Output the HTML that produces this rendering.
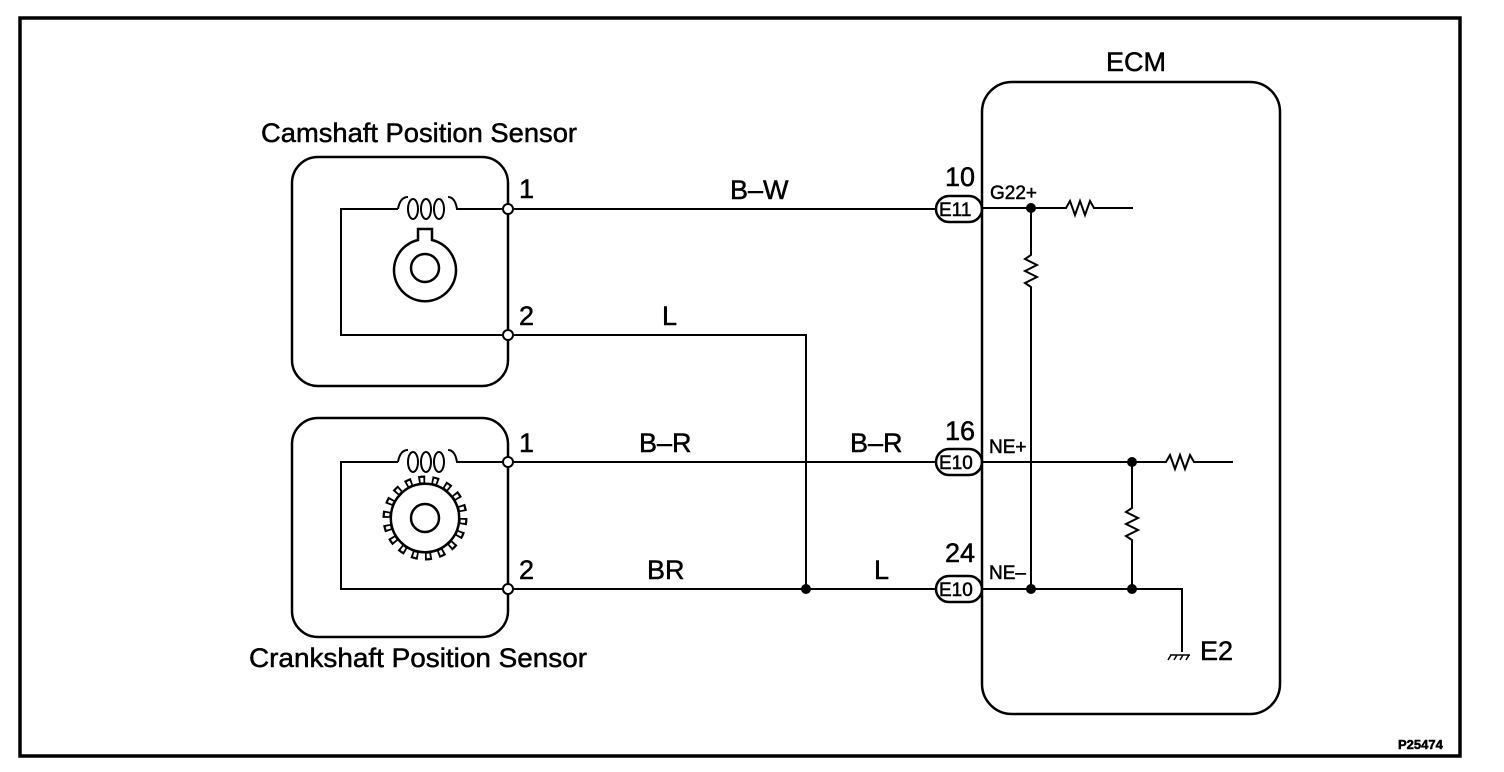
<!DOCTYPE html>
<html><head><meta charset="utf-8"><style>
html,body{margin:0;padding:0;background:#fff;}
svg{display:block;}
text{font-family:"Liberation Sans",sans-serif;fill:#000;stroke:#000;stroke-width:0.5;}
</style></head><body>
<svg width="1504" height="772" viewBox="0 0 1504 772" xmlns="http://www.w3.org/2000/svg">
<g fill="none" stroke="#000" stroke-width="2">
<rect x="20" y="18" width="1440" height="738" stroke-width="3.5"/>
<!-- camshaft sensor -->
<rect x="292" y="157" width="216" height="229" rx="26" stroke-width="2.5"/>
<path d="M508 209 H457 Q455 197 448 197 M398 209 H341 V335 H508"/>
<path d="M398 209 Q400 197 408 197"/>
<ellipse cx="413" cy="209" rx="5" ry="10"/><ellipse cx="426" cy="209" rx="5" ry="10"/><ellipse cx="439" cy="209" rx="5" ry="10"/>
<path d="M418 240 V229 H432 V240 A31 31 0 1 1 418 240 Z" stroke-width="2.5"/>
<circle cx="425" cy="268" r="14" stroke-width="2.5"/>
<!-- crankshaft sensor -->
<rect x="292" y="418" width="216" height="219" rx="26" stroke-width="2.5"/>
<path d="M508 462 H457 Q455 450 448 450 M398 462 H341 V589 H508"/>
<path d="M398 462 Q400 450 408 450"/>
<ellipse cx="413" cy="462" rx="5" ry="10"/><ellipse cx="426" cy="462" rx="5" ry="10"/><ellipse cx="439" cy="462" rx="5" ry="10"/>
<circle cx="425" cy="518" r="38" stroke-width="9" stroke-dasharray="6.6 6.66"/>
<circle cx="425" cy="518" r="38" stroke="#fff" stroke-width="4.5" stroke-dasharray="3 10.26" stroke-dashoffset="-1.8"/>
<circle cx="425" cy="518" r="34.2" stroke-width="2.5"/>
<circle cx="425" cy="518" r="14" stroke-width="2.5"/>
<!-- wires -->
<line x1="508" y1="209" x2="935" y2="209"/>
<path d="M508 335 H806 V589"/>
<line x1="508" y1="462" x2="935" y2="462"/>
<line x1="508" y1="589" x2="935" y2="589"/>
<!-- ECM -->
<rect x="982" y="82" width="298" height="632" rx="30" stroke-width="2.5"/>
<rect x="936" y="196" width="46" height="26" rx="13" stroke-width="2.5"/>
<rect x="936" y="449" width="46" height="26" rx="13" stroke-width="2.5"/>
<rect x="936" y="576" width="46" height="26" rx="13" stroke-width="2.5"/>
<path d="M982 208 H1066 l4 -7 l5 14 l5 -14 l5 14 l5 -14 l4 7 H1133"/>
<path d="M1031 208 V255 l-6 4 l12 6 l-12 6 l12 6 l-12 6 l6 4 V589"/>
<path d="M982 462 H1166 l4 -7 l5 14 l5 -14 l5 14 l5 -14 l4 7 H1233"/>
<path d="M1132 462 V508 l-6 4 l12 6 l-12 6 l12 6 l-12 6 l6 4 V589"/>
<path d="M982 589 H1182 V652"/>
<path d="M1170 655 H1190 M1171 655 l-3 5 M1177 655 l-3 5 M1183 655 l-3 5 M1189 655 l-3 5" stroke-width="1.5"/>
</g>
<g fill="#fff" stroke="#000" stroke-width="2">
<circle cx="508" cy="209" r="5"/><circle cx="508" cy="335" r="5"/>
<circle cx="508" cy="462" r="5"/><circle cx="508" cy="589" r="5"/>
</g>
<g fill="#000">
<circle cx="806" cy="589" r="5"/><circle cx="1031" cy="208" r="5"/>
<circle cx="1132" cy="462" r="5"/><circle cx="1031" cy="589" r="5"/><circle cx="1132" cy="589" r="5"/>
</g>
<g font-size="27">
<text x="261" y="142" textLength="316" lengthAdjust="spacingAndGlyphs">Camshaft Position Sensor</text>
<text x="249" y="667" textLength="338" lengthAdjust="spacingAndGlyphs">Crankshaft Position Sensor</text>
<text x="1106" y="71">ECM</text>
<text x="519" y="198">1</text><text x="519" y="325">2</text>
<text x="519" y="452">1</text><text x="519" y="579">2</text>
<text x="730" y="199">B–W</text>
<text x="662" y="325">L</text>
<text x="639" y="452">B–R</text>
<text x="850" y="452">B–R</text>
<text x="647" y="579">BR</text>
<text x="874" y="579">L</text>
<text x="945" y="186">10</text>
<text x="945" y="440">16</text>
<text x="945" y="562">24</text>
<text x="1200" y="660">E2</text>
</g>
<g font-size="19">
<text x="939" y="216">E11</text>
<text x="939" y="469">E10</text>
<text x="939" y="596">E10</text>
<text x="990" y="199">G22+</text>
<text x="989" y="453">NE+</text>
<text x="989" y="579">NE–</text>
</g>
<text x="1398" y="749" font-size="13" font-weight="bold">P25474</text>
</svg>
</body></html>
